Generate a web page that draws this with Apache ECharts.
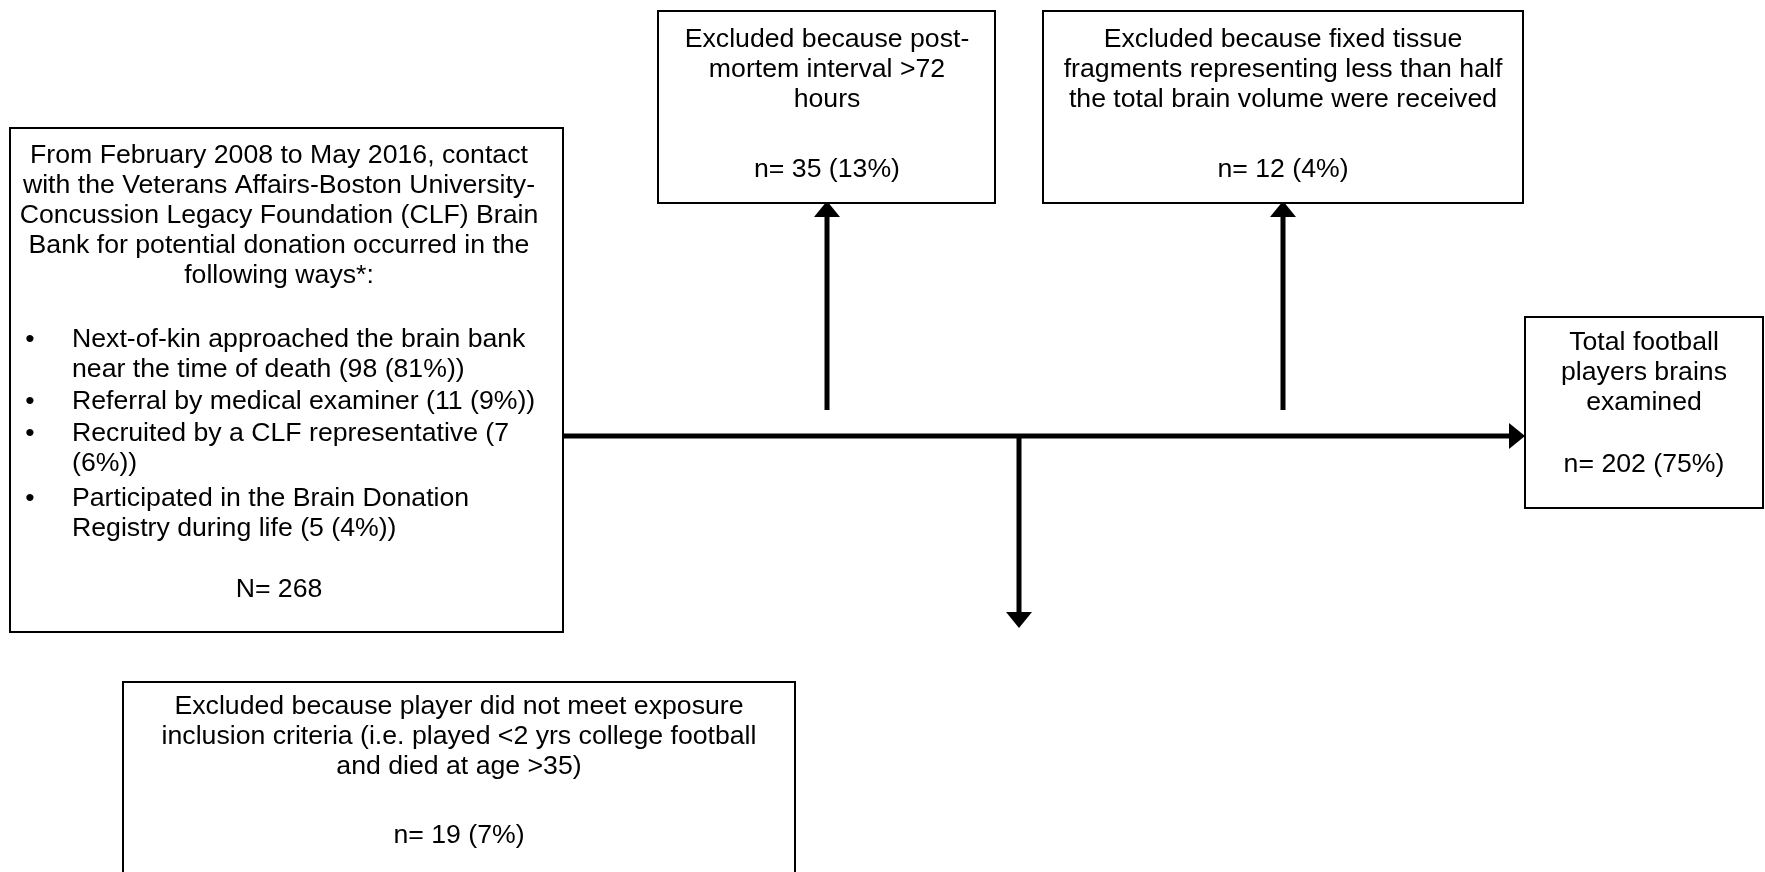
<!DOCTYPE html>
<html>
<head>
<meta charset="utf-8">
<script src="https://cdn.jsdelivr.net/npm/echarts@6/dist/echarts.min.js"></script>
<style>
html, body { margin: 0; padding: 0; background: #ffffff; }
#chart { width: 1765px; height: 872px; }
</style>
</head>
<body>
<div id="chart"></div>
<script>
// ---------------- data ----------------
const sourceDescription = "From February 2008 to May 2016, contact\nwith the Veterans Affairs-Boston University-\nConcussion Legacy Foundation (CLF) Brain\nBank for potential donation occurred in the\nfollowing ways*:";
const sourceTotal = 268;
const referralWays = [
  "Next-of-kin approached the brain bank near the time of death",
  "Referral by medical examiner",
  "Recruited by a CLF representative",
  "Participated in the Brain Donation Registry during life"
];
const referralCounts = [98, 11, 7, 5];
const referralPercents = [81, 9, 6, 4];

const exclusionReasons = [
  "Excluded because post-\nmortem interval >72\nhours",
  "Excluded because fixed tissue\nfragments representing less than half\nthe total brain volume were received",
  "Excluded because player did not meet exposure\ninclusion criteria (i.e. played <2 yrs college football\nand died at age >35)"
];
const exclusionCounts = [35, 12, 19];
const exclusionPercents = [13, 4, 7];

const finalLabel = "Total football\nplayers brains\nexamined";
const finalCount = 202;
const finalPercent = 75;

// ---------------- layout (positions in axis units = pixels) ----------------
const W = 1765, H = 872;
const FONT = 26.67, LH = 30;
const layout = {
  source: { x0: 10, y0: 128, x1: 563, y1: 632, textX: 279, headY: 156, totalY: 590,
            bulletX: 30, bulletTextX: 72, bulletWidth: 485, bulletY: [340, 402, 434, 499] },
  excl: [
    { x0: 658, y0: 11, x1: 995, y1: 203, textX: 827, headY: 40, countY: 170 },
    { x0: 1043, y0: 11, x1: 1523, y1: 203, textX: 1283, headY: 40, countY: 170 },
    { x0: 123, y0: 682, x1: 795, y1: 900, textX: 459, headY: 707, countY: 836 }
  ],
  final: { x0: 1525, y0: 317, x1: 1763, y1: 508, textX: 1644, headY: 343, countY: 465 },
  trunk: { y: 436, x0: 563, x1: 1525 },
  branches: [
    { x: 827, from: 410, to: 201 },
    { x: 1283, from: 410, to: 201 },
    { x: 1019, from: 436, to: 628 }
  ],
  head: { len: 15, half: 13 },
  lineW: 5
};

// ---------------- nodes built from data ----------------
const nodes = [];
nodes.push({
  box: layout.source, head: sourceDescription, count: "N= " + sourceTotal,
  bullets: referralWays.map((w, i) => w + " (" + referralCounts[i] + " (" + referralPercents[i] + "%))")
});
exclusionReasons.forEach((r, i) => {
  nodes.push({ box: layout.excl[i], head: r, count: "n= " + exclusionCounts[i] + " (" + exclusionPercents[i] + "%)" });
});
nodes.push({ box: layout.final, head: finalLabel, count: "n= " + finalCount + " (" + finalPercent + "%)" });

const fontFamily = '"Liberation Sans", Arial, Helvetica, sans-serif';

function txt(api, x, y, text, align, extra) {
  const p = api.coord([x, y]);
  const style = Object.assign({
    text: text, x: p[0], y: p[1] - LH / 2, fill: '#000000',
    fontSize: FONT, fontFamily: fontFamily, lineHeight: LH,
    align: align, verticalAlign: 'top'
  }, extra || {});
  return { type: 'text', style: style };
}

function renderNode(params, api) {
  const n = nodes[params.dataIndex];
  const b = n.box;
  const p0 = api.coord([b.x0, b.y0]);
  const p1 = api.coord([b.x1, b.y1]);
  const children = [{
    type: 'rect',
    shape: { x: p0[0], y: p0[1], width: p1[0] - p0[0], height: p1[1] - p0[1] },
    style: { fill: '#ffffff', stroke: '#000000', lineWidth: 2 }
  }];
  children.push(txt(api, b.textX, b.headY, n.head, 'center'));
  if (n.bullets) {
    n.bullets.forEach((t, i) => {
      children.push(txt(api, b.bulletX, b.bulletY[i], '\u2022', 'center'));
      children.push(txt(api, b.bulletTextX, b.bulletY[i], t, 'left', { width: b.bulletWidth, overflow: 'break' }));
    });
    children.push(txt(api, b.textX, b.totalY, n.count, 'center'));
  } else {
    children.push(txt(api, b.textX, b.countY, n.count, 'center'));
  }
  return { type: 'group', children: children };
}

// connectors: index 0 = trunk, 1..3 = branches
const connectors = [{ kind: 'trunk' }].concat(layout.branches.map(b => ({ kind: 'branch', b: b })));

function renderConnector(params, api) {
  const c = connectors[params.dataIndex];
  const hl = layout.head.len, hh = layout.head.half;
  const lineStyle = { stroke: '#000000', lineWidth: layout.lineW, fill: null };
  if (c.kind === 'trunk') {
    const t = layout.trunk;
    const a = api.coord([t.x0, t.y]);
    const tip = api.coord([t.x1, t.y]);
    return { type: 'group', children: [
      { type: 'line', shape: { x1: a[0], y1: a[1], x2: tip[0] - hl, y2: tip[1] }, style: lineStyle },
      { type: 'polygon', shape: { points: [[tip[0], tip[1]], [tip[0] - hl - 1, tip[1] - hh], [tip[0] - hl - 1, tip[1] + hh]] },
        style: { fill: '#000000' } }
    ] };
  }
  const b = c.b;
  const a = api.coord([b.x, b.from]);
  const tip = api.coord([b.x, b.to]);
  const dir = tip[1] < a[1] ? -1 : 1;
  const base = tip[1] - dir * hl;
  return { type: 'group', children: [
    { type: 'line', shape: { x1: a[0], y1: a[1], x2: tip[0], y2: base }, style: lineStyle },
    { type: 'polygon', shape: { points: [[tip[0], tip[1]], [tip[0] - hh, base - dir], [tip[0] + hh, base - dir]] },
      style: { fill: '#000000' } }
  ] };
}

const chart = echarts.init(document.getElementById('chart'), null, { renderer: 'canvas' });
chart.setOption({
  backgroundColor: '#ffffff',
  animation: false,
  grid: { left: 0, right: 0, top: 0, bottom: 0 },
  xAxis: { type: 'value', min: 0, max: W, show: false },
  yAxis: { type: 'value', min: 0, max: H, inverse: true, show: false },
  series: [
    { type: 'custom', renderItem: renderConnector, clip: false,
      data: connectors.map((c, i) => [i, 0]), silent: true },
    { type: 'custom', renderItem: renderNode, clip: false,
      data: nodes.map((n, i) => [i, 0]), silent: true }
  ]
});
</script>
</body>
</html>
